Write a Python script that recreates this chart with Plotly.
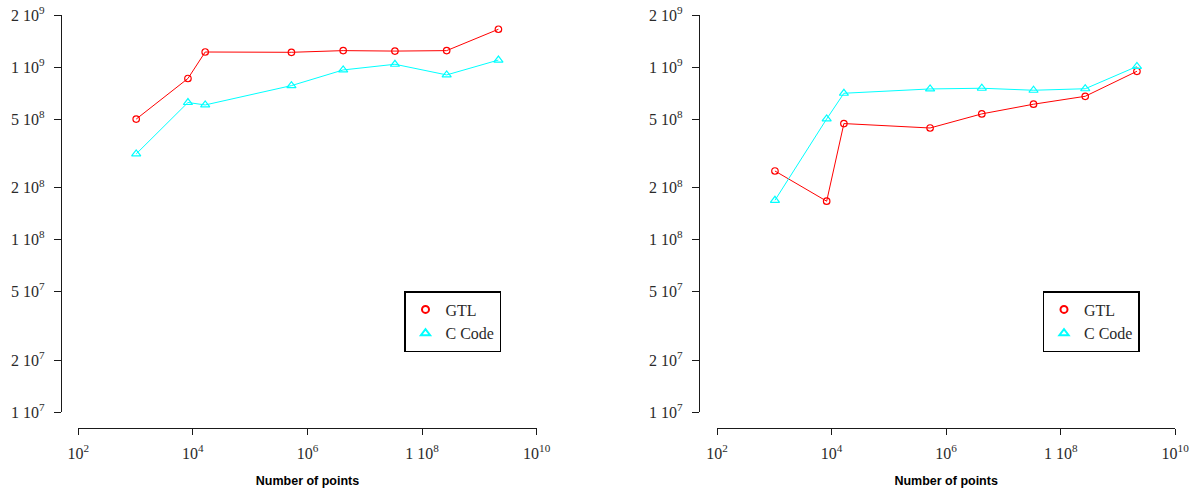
import math
import plotly.graph_objects as go

# ---------------- data ----------------
n_points = [2**10, 2**13, 2**14, 2**19, 2**22, 2**25, 2**28, 2**31]

left_gtl = [5.0e8, 8.6e8, 1.225e9, 1.22e9, 1.248e9, 1.24e9, 1.248e9, 1.66e9]
left_ccode = [3.14e8, 6.24e8, 6.04e8, 7.82e8, 9.64e8, 1.04e9, 9.02e8, 1.10e9]

right_gtl = [2.50e8, 1.67e8, 4.71e8, 4.44e8, 5.36e8, 6.10e8, 6.78e8, 9.47e8]
right_ccode = [1.69e8, 5.01e8, 7.06e8, 7.48e8, 7.55e8, 7.35e8, 7.50e8, 1.01e9]

y_tickvals = [1e7, 2e7, 5e7, 1e8, 2e8, 5e8, 1e9, 2e9]
y_ticktext = ["1 10<sup>7</sup>", "2 10<sup>7</sup>", "5 10<sup>7</sup>", "1 10<sup>8</sup>",
              "2 10<sup>8</sup>", "5 10<sup>8</sup>", "1 10<sup>9</sup>", "2 10<sup>9</sup>"]
x_tickvals = [1e2, 1e4, 1e6, 1e8, 1e10]
x_ticktext = ["10<sup>2</sup>", "10<sup>4</sup>", "10<sup>6</sup>", "1 10<sup>8</sup>", "10<sup>10</sup>"]

series_names = ["GTL", "C Code"]
x_title = "Number of points"

# ---------------- layout geometry (pixels) ----------------
W, H = 1197, 493
RED = "#FF0000"
CYAN = "#00FFFF"
AXC = "#1a1a1a"
TICKFONT = dict(family="Liberation Serif", size=16, color="#2a2a2a")

def px_x(p):
    return p / W

def px_y(p):
    return 1 - p / H

panels = [
    dict(x0=78.3, x1=536.7, yaxis_x=60.7, legend_x=404.0),
    dict(x0=717.1, x1=1175.2, yaxis_x=698.9, legend_x=1042.5),
]
y_top, y_bot, xaxis_y = 15.3, 412.0, 428.3

fig = go.Figure()

data_sets = [(left_gtl, left_ccode), (right_gtl, right_ccode)]
for i, (gtl, cc) in enumerate(data_sets):
    xa = "x" if i == 0 else "x2"
    ya = "y" if i == 0 else "y2"
    leg = "legend" if i == 0 else "legend2"
    fig.add_trace(go.Scatter(
        x=n_points, y=gtl, mode="lines+markers", xaxis=xa, yaxis=ya,
        line=dict(color=RED, width=1),
        marker=dict(symbol="circle-open", size=6.5, color=RED, line=dict(width=1.2)),
        showlegend=False, name=series_names[0]))
    fig.add_trace(go.Scatter(
        x=n_points, y=cc, mode="lines+markers", xaxis=xa, yaxis=ya,
        line=dict(color=CYAN, width=1),
        marker=dict(symbol="triangle-up-open", size=8, color=CYAN, line=dict(width=1.2)),
        showlegend=False, name=series_names[1]))
    # legend entries (markers only, like the reference)
    fig.add_trace(go.Scatter(
        x=[None], y=[None], mode="markers", xaxis=xa, yaxis=ya, legend=leg,
        marker=dict(symbol="circle-open", size=7, color=RED, line=dict(width=2)),
        name=series_names[0]))
    fig.add_trace(go.Scatter(
        x=[None], y=[None], mode="markers", xaxis=xa, yaxis=ya, legend=leg,
        marker=dict(symbol="triangle-up-open", size=8, color=CYAN, line=dict(width=2)),
        name=series_names[1]))

layout = dict(
    template="none",
    width=W, height=H,
    margin=dict(l=0, r=0, t=0, b=0, pad=0, autoexpand=False),
    paper_bgcolor="white", plot_bgcolor="white",
    showlegend=True,
)

for i, p in enumerate(panels):
    sx = "" if i == 0 else "2"
    layout["xaxis" + sx] = dict(
        type="log", range=[2, 10], automargin=False,
        domain=[px_x(p["x0"]), px_x(p["x1"])],
        anchor="free", position=px_y(xaxis_y),
        showgrid=False, zeroline=False,
        showline=True, linecolor=AXC, linewidth=1,
        ticks="outside", ticklen=6, tickwidth=1, tickcolor=AXC,
        tickvals=x_tickvals, ticktext=x_ticktext, tickfont=TICKFONT,
        ticklabelstandoff=4,
        title=dict(text="<b>" + x_title + "</b>",
                   font=dict(family="Liberation Sans", size=12.5, color="black"),
                   standoff=15),
    )
    layout["yaxis" + sx] = dict(
        type="log", range=[7, math.log10(2e9)], automargin=False,
        domain=[px_y(y_bot), px_y(y_top)],
        anchor="free", position=px_x(p["yaxis_x"]),
        showgrid=False, zeroline=False,
        showline=True, linecolor=AXC, linewidth=1,
        ticks="outside", ticklen=7, tickwidth=1, tickcolor=AXC,
        tickvals=y_tickvals, ticktext=y_ticktext, tickfont=TICKFONT,
        ticklabelstandoff=6,
    )
    layout["legend" if i == 0 else "legend2"] = dict(
        x=px_x(p["legend_x"]), y=px_y(291), xanchor="left", yanchor="top",
        bordercolor="black", borderwidth=1.5, bgcolor="white",
        font=dict(family="Liberation Serif", size=16, color="#2a2a2a"),
        tracegroupgap=0, itemwidth=30,
    )

fig.update_layout(**layout)
fig.write_html(
    "out.html",
    config={"displayModeBar": False},
    post_script="document.body.style.margin='0';document.body.style.overflow='hidden';",
)
